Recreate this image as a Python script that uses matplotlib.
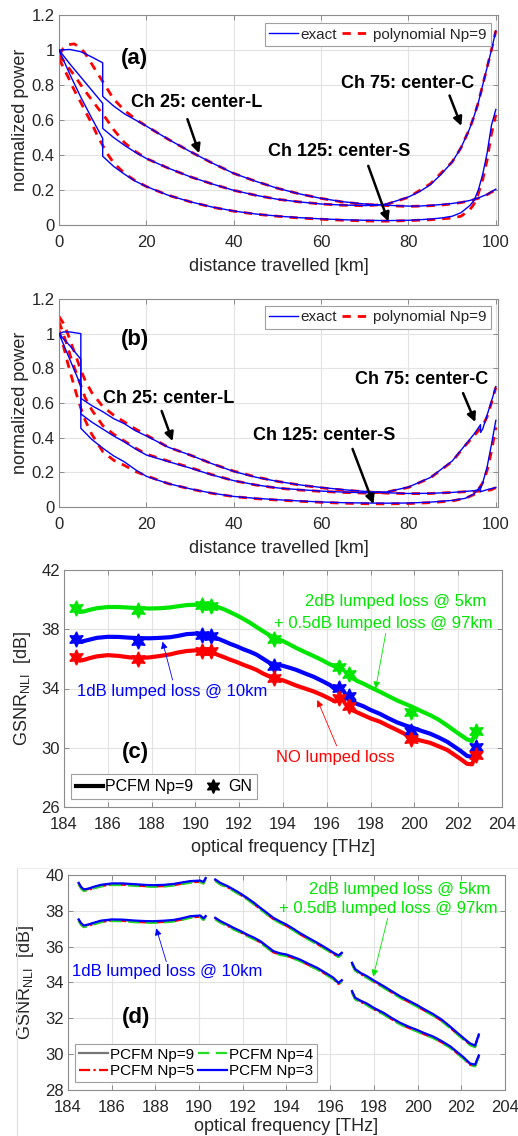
import matplotlib
matplotlib.use("Agg")
import matplotlib.pyplot as plt
from matplotlib.lines import Line2D

plt.rcParams['font.family'] = ['Liberation Sans', 'DejaVu Sans']
plt.rcParams['mathtext.default'] = 'regular'

# ---------------- Panel (a): 1 dB lumped loss @ 10 km ----------------
dist_a_exact = [0, 2.5, 5, 7.5, 10, 10, 12.5, 15, 17.5, 20, 25, 30, 35, 40, 45, 50, 55, 60, 65, 70,
                72.5, 75, 77.5, 80, 82.5, 85, 87.5, 90, 92, 94, 95, 96, 97, 98, 99, 100]
ch25_a_exact = [1.0, 1.003, 0.99, 0.96, 0.927, 0.735, 0.68, 0.635, 0.6, 0.565,
                0.49, 0.42, 0.355, 0.295, 0.25, 0.21, 0.178, 0.152, 0.133, 0.12,
                0.116, 0.113, 0.11, 0.108, 0.108, 0.112, 0.117, 0.123, 0.13, 0.14,
                0.147, 0.155, 0.165, 0.175, 0.19, 0.205]
ch75_a_exact = [1.0, 0.92, 0.845, 0.77, 0.695, 0.552, 0.5, 0.455, 0.415, 0.38,
                0.325, 0.276, 0.235, 0.198, 0.17, 0.147, 0.132, 0.12, 0.114, 0.111,
                0.113, 0.12, 0.14, 0.16, 0.19, 0.23, 0.29, 0.36, 0.44, 0.55,
                0.62, 0.7, 0.8, 0.9, 1.0, 1.11]
ch125_a_exact = [1.0, 0.86, 0.73, 0.61, 0.495, 0.393, 0.335, 0.29, 0.25, 0.22,
                 0.17, 0.133, 0.103, 0.08, 0.063, 0.051, 0.042, 0.035, 0.03, 0.027,
                 0.026, 0.025, 0.026, 0.027, 0.03, 0.034, 0.04, 0.05, 0.07, 0.11,
                 0.14, 0.2, 0.29, 0.41, 0.57, 0.66]

dist_a_poly = [0, 1, 2, 3.5, 5, 6, 7.5, 9, 10, 11, 12.5, 15, 17.5, 20, 25, 30, 35, 40, 45, 50,
               55, 60, 65, 70, 75, 80, 85, 88, 90, 92, 94, 95, 96, 97, 98, 99, 100]
ch25_a_poly = [0.97, 1.01, 1.03, 1.035, 1.01, 0.98, 0.92, 0.86, 0.82, 0.78,
               0.72, 0.655, 0.605, 0.565, 0.49, 0.42, 0.355, 0.295, 0.25, 0.21,
               0.178, 0.152, 0.131, 0.118, 0.111, 0.106, 0.11, 0.115, 0.121, 0.128,
               0.138, 0.145, 0.153, 0.163, 0.173, 0.188, 0.2]
ch75_a_poly = [0.97, 0.94, 0.905, 0.855, 0.8, 0.765, 0.715, 0.665, 0.635, 0.6,
               0.545, 0.47, 0.42, 0.38, 0.325, 0.276, 0.235, 0.198, 0.17, 0.147,
               0.132, 0.12, 0.113, 0.11, 0.118, 0.158, 0.235, 0.31, 0.36, 0.44,
               0.55, 0.62, 0.7, 0.8, 0.9, 1.0, 1.11]
ch125_a_poly = [0.95, 0.9, 0.85, 0.77, 0.7, 0.65, 0.58, 0.5, 0.455, 0.41,
                0.355, 0.295, 0.252, 0.22, 0.17, 0.133, 0.102, 0.079, 0.062, 0.05,
                0.04, 0.033, 0.027, 0.023, 0.022, 0.025, 0.03, 0.036, 0.04, 0.05,
                0.085, 0.12, 0.18, 0.26, 0.37, 0.52, 0.63]

# ---------------- Panel (b): 2 dB @ 5 km + 0.5 dB @ 97 km ----------------
dist_b_exact = [0, 1, 2.5, 5, 5, 7.5, 10, 12.5, 15, 17.5, 20, 25, 30, 35, 40, 45, 50, 55, 60,
                65, 70, 75, 80, 85, 90, 93, 95, 96.5, 96.5, 97, 98, 99, 100]
ch25_b_exact = [1.0, 1.01, 1.01, 1.0, 0.627, 0.585, 0.55, 0.51, 0.48,
                0.44, 0.41, 0.345, 0.3, 0.25, 0.205, 0.172, 0.148, 0.128, 0.113,
                0.1, 0.09, 0.082, 0.078, 0.079, 0.084, 0.09, 0.094, 0.1,
                0.089, 0.092, 0.1, 0.106, 0.113]
ch75_b_exact = [1.0, 0.97, 0.93, 0.852, 0.537, 0.49, 0.45, 0.41, 0.375,
                0.335, 0.3, 0.262, 0.225, 0.185, 0.152, 0.128, 0.11, 0.1, 0.092,
                0.086, 0.082, 0.087, 0.115, 0.17, 0.265, 0.358, 0.42, 0.475,
                0.43, 0.45, 0.53, 0.61, 0.695]
ch125_b_exact = [1.0, 0.94, 0.85, 0.70, 0.454, 0.39, 0.34, 0.295, 0.26,
                 0.215, 0.177, 0.135, 0.105, 0.08, 0.061, 0.05, 0.042, 0.035, 0.029,
                 0.025, 0.023, 0.022, 0.023, 0.028, 0.038, 0.05, 0.075, 0.12,
                 0.107, 0.14, 0.23, 0.36, 0.5]

dist_b_poly = [0, 1, 2, 3, 4, 5, 6, 7.5, 10, 12.5, 15, 17.5, 20, 25, 30, 35, 40, 45, 50, 55,
               60, 65, 70, 75, 80, 85, 90, 93, 95, 96, 97, 98, 99, 100]
ch25_b_poly = [1.1, 1.06, 1.0, 0.93, 0.86, 0.79, 0.73, 0.66, 0.58, 0.53,
               0.49, 0.45, 0.415, 0.345, 0.3, 0.25, 0.207, 0.174, 0.148, 0.127,
               0.111, 0.098, 0.088, 0.08, 0.077, 0.078, 0.084, 0.088, 0.09, 0.091,
               0.092, 0.095, 0.1, 0.112]
ch75_b_poly = [1.07, 1.0, 0.92, 0.84, 0.77, 0.7, 0.63, 0.56, 0.47, 0.42,
               0.38, 0.34, 0.305, 0.265, 0.228, 0.187, 0.152, 0.127, 0.109, 0.098,
               0.09, 0.084, 0.08, 0.086, 0.113, 0.168, 0.262, 0.355, 0.41, 0.44,
               0.47, 0.52, 0.6, 0.69]
ch125_b_poly = [1.02, 0.93, 0.83, 0.74, 0.65, 0.57, 0.5, 0.42, 0.32, 0.27,
                0.24, 0.205, 0.18, 0.135, 0.104, 0.079, 0.06, 0.048, 0.04, 0.033,
                0.027, 0.022, 0.019, 0.018, 0.02, 0.025, 0.035, 0.05, 0.072, 0.1,
                0.14, 0.21, 0.32, 0.46]

# ---------------- Panels (c),(d): GSNR_NLI vs frequency ----------------
freq_L = [184.49, 184.6, 184.72, 184.9, 185.17, 185.5, 186.0, 186.5, 187.0, 187.5,
          187.9, 188.4, 188.83, 189.2, 189.6, 190.05, 190.2, 190.3]
freq_C = [190.74, 190.97, 191.3, 191.58, 191.9, 192.19, 192.5, 192.8, 193.1, 193.4,
          193.7, 194.0, 194.3, 194.6, 195.0, 195.4, 195.8, 196.15, 196.38, 196.53]
freq_S = [197.0, 197.14, 197.4, 197.67, 198.0, 198.44, 198.8, 199.2, 199.6, 199.96,
          200.3, 200.72, 201.1, 201.5, 201.8, 202.1, 202.4, 202.63, 202.8]

gsnr_2dB_L = [39.53, 39.3, 39.17, 39.2, 39.31, 39.42, 39.5, 39.5, 39.46, 39.42,
              39.4, 39.42, 39.47, 39.55, 39.63, 39.66, 39.58, 39.8]
gsnr_2dB_C = [39.72, 39.53, 39.35, 39.16, 38.93, 38.7, 38.43, 38.14, 37.86, 37.58,
              37.38, 37.2, 36.98, 36.74, 36.46, 36.19, 35.9, 35.63, 35.48, 35.63]
gsnr_2dB_S = [35.07, 34.72, 34.5, 34.33, 34.08, 33.77, 33.5, 33.2, 32.95, 32.72,
              32.48, 32.2, 31.9, 31.5, 31.18, 30.87, 30.57, 30.45, 31.07]

gsnr_1dB_L = [37.49, 37.28, 37.15, 37.2, 37.3, 37.42, 37.49, 37.48, 37.43, 37.4,
              37.39, 37.42, 37.46, 37.55, 37.67, 37.71, 37.55, 37.68]
gsnr_1dB_C = [37.58, 37.4, 37.2, 37.02, 36.84, 36.65, 36.48, 36.28, 36.0, 35.72,
              35.6, 35.53, 35.4, 35.26, 35.02, 34.79, 34.5, 34.23, 33.95, 34.1]
gsnr_1dB_S = [33.49, 33.12, 32.95, 32.8, 32.55, 32.28, 32.0, 31.72, 31.5, 31.33,
              31.15, 30.95, 30.7, 30.4, 30.1, 29.8, 29.45, 29.38, 29.9]

gsnr_0dB_L = [36.15, 35.98, 35.88, 35.93, 36.05, 36.17, 36.25, 36.2, 36.1, 36.07,
              36.1, 36.2, 36.3, 36.43, 36.53, 36.58, 36.45, 36.58]
gsnr_0dB_C = [36.5, 36.3, 36.12, 35.95, 35.78, 35.6, 35.43, 35.25, 35.0, 34.8,
              34.65, 34.55, 34.38, 34.2, 34.0, 33.8, 33.55, 33.3, 33.12, 33.3]
gsnr_0dB_S = [32.9, 32.55, 32.38, 32.2, 31.98, 31.75, 31.48, 31.2, 30.9, 30.65,
              30.48, 30.33, 30.1, 29.85, 29.55, 29.25, 28.92, 28.88, 29.5]

gn_freq = [184.55, 187.36, 190.3, 190.7, 193.58, 196.56, 197.0, 199.86, 202.83]
gn_2dB = [39.46, 39.3, 39.64, 39.6, 37.33, 35.48, 34.97, 32.38, 31.15]
gn_1dB = [37.35, 37.24, 37.62, 37.55, 35.53, 34.02, 33.5, 31.15, 30.02]
gn_0dB = [36.11, 35.98, 36.56, 36.54, 34.7, 33.35, 32.85, 30.58, 29.53]

# PCFM order variants in (d): small deviations (dB) from the Np=9 curves
np_labels = ['PCFM Np=9', 'PCFM Np=5', 'PCFM Np=4', 'PCFM Np=3']
np_dev = [0.0, -0.04, -0.06, 0.03]

BLUE = '#0000FF'
RED = '#FF0000'
GREEN = '#00E600'
TXT = '#262626'
EDGE = '#8c8c8c'
GRIDC = '#e3e3e3'

W, H = 518, 1136
fig = plt.figure(figsize=(W / 100, H / 100), dpi=100)


def make_ax(left, top, right, bottom):
    return fig.add_axes([left / W, 1 - bottom / H, (right - left) / W, (bottom - top) / H])


def style(ax):
    ax.grid(True, color=GRIDC, lw=0.8)
    ax.set_axisbelow(True)
    for s in ax.spines.values():
        s.set_color(EDGE)
        s.set_linewidth(0.8)
    ax.tick_params(direction='in', length=3.5, width=0.7, colors=EDGE,
                   labelcolor=TXT, labelsize=12, top=True, right=True)
    ax.tick_params(axis='x', pad=7)
    ax.tick_params(axis='y', pad=3)


def power_panel(ax, dist_e, exact, dist_p, poly, label, texts, arrows, legend_anchor):
    for ye in exact:
        ax.plot(dist_e, ye, color=BLUE, lw=1.0, zorder=3)
    for yp in poly:
        ax.plot(dist_p, yp, color=RED, lw=2.0, ls=(0, (3, 2.5)), zorder=2)
    ax.set_xlim(0, 100.5)
    ax.set_ylim(0, 1.2)
    ax.set_xticks([0, 20, 40, 60, 80, 100])
    ax.set_yticks([0, 0.2, 0.4, 0.6, 0.8, 1.0, 1.2])
    ax.set_yticklabels(['0', '0.2', '0.4', '0.6', '0.8', '1', '1.2'])
    style(ax)
    ax.set_xlabel('distance travelled [km]', fontsize=13, color=TXT)
    ax.set_ylabel('normalized power', fontsize=13, color=TXT)
    ax.text(label[1], label[2], label[0], fontsize=16, fontweight='bold',
            ha='center', va='center', color='k')
    for (s, x, y) in texts:
        ax.text(x, y, s, fontsize=13, fontweight='bold', ha='center', va='center', color='k')
    for (x0, y0, x1, y1) in arrows:
        ax.annotate('', xy=(x1, y1), xytext=(x0, y0),
                    arrowprops=dict(arrowstyle='-|>', color='k', lw=1.8, mutation_scale=13,
                                    shrinkA=0, shrinkB=0))
    h = [Line2D([], [], color=BLUE, lw=1.0), Line2D([], [], color=RED, lw=2.0, ls=(0, (3, 2.5)))]
    leg = ax.legend(h, ['exact', 'polynomial Np=9'], ncol=2, loc='upper right',
                    bbox_to_anchor=legend_anchor, borderaxespad=0, fontsize=11,
                    fancybox=False, framealpha=1, edgecolor='#a0a0a0', handlelength=1.9,
                    handletextpad=0.15, columnspacing=0.3, borderpad=0.3)
    leg.get_frame().set_linewidth(0.8)
    for t in leg.get_texts():
        t.set_color(TXT)


# (a)
ax_a = make_ax(59, 15, 498, 225)
power_panel(ax_a, dist_a_exact, [ch25_a_exact, ch75_a_exact, ch125_a_exact],
            dist_a_poly, [ch25_a_poly, ch75_a_poly, ch125_a_poly],
            ('(a)', 17.3, 0.95),
            [('Ch 25: center-L', 31.6, 0.70), ('Ch 75: center-C', 79.7, 0.81),
             ('Ch 125: center-S', 64.2, 0.418)],
            [(29.4, 0.605, 32.1, 0.41), (89.4, 0.74, 92.1, 0.566), (70.8, 0.338, 75.4, 0.02)],
            (0.984, 0.962))
ax_a.xaxis.set_label_coords(0.5, -0.155)
ax_a.yaxis.set_label_coords(-0.068, 0.5)

# (b)
ax_b = make_ax(59, 299, 498, 507)
power_panel(ax_b, dist_b_exact, [ch25_b_exact, ch75_b_exact, ch125_b_exact],
            dist_b_poly, [ch25_b_poly, ch75_b_poly, ch125_b_poly],
            ('(b)', 17.3, 0.964),
            [('Ch 25: center-L', 25.1, 0.627), ('Ch 75: center-C', 83.0, 0.738),
             ('Ch 125: center-S', 60.7, 0.415)],
            [(23.5, 0.554, 26.0, 0.38), (92.5, 0.657, 95.3, 0.49), (67.2, 0.335, 72.0, 0.017)],
            (0.984, 0.968))
ax_b.xaxis.set_label_coords(0.5, -0.16)
ax_b.yaxis.set_label_coords(-0.068, 0.5)

STAR = (6, 1, 0)

# (c)
ax_c = make_ax(64, 570, 502, 807)
bands = [(freq_L, gsnr_0dB_L, gsnr_1dB_L, gsnr_2dB_L),
         (freq_C, gsnr_0dB_C, gsnr_1dB_C, gsnr_2dB_C),
         (freq_S, gsnr_0dB_S, gsnr_1dB_S, gsnr_2dB_S)]
for f, g0, g1, g2 in bands:
    ax_c.plot(f, g2, color=GREEN, lw=3, solid_capstyle='round', zorder=3)
    ax_c.plot(f, g1, color=BLUE, lw=3, solid_capstyle='round', zorder=3)
    ax_c.plot(f, g0, color=RED, lw=3, solid_capstyle='round', zorder=3)
for g, c in [(gn_2dB, GREEN), (gn_1dB, BLUE), (gn_0dB, RED)]:
    ax_c.plot(gn_freq, g, ls='none', marker=STAR, ms=11, color=c, mec=c, zorder=4)
ax_c.set_xlim(184, 204)
ax_c.set_ylim(26, 42)
ax_c.set_xticks(range(184, 205, 2))
ax_c.set_yticks([26, 30, 34, 38, 42])
style(ax_c)
ax_c.set_xlabel('optical frequency [THz]', fontsize=13, color=TXT)
ax_c.set_ylabel('GSNR$_{NLI}$  [dB]', fontsize=13, color=TXT)
ax_c.xaxis.set_label_coords(0.5, -0.135)
ax_c.yaxis.set_label_coords(-0.071, 0.5)
ax_c.text(199.15, 39.86, '2dB lumped loss @ 5km', color=GREEN, fontsize=12, ha='center', va='center')
ax_c.text(198.6, 38.4, '+ 0.5dB lumped loss @ 97km', color=GREEN, fontsize=12, ha='center', va='center')
ax_c.text(188.92, 33.78, '1dB lumped loss @ 10km', color=BLUE, fontsize=12, ha='center', va='center')
ax_c.text(196.4, 29.33, 'NO lumped loss', color=RED, fontsize=12, ha='center', va='center')
ax_c.text(187.24, 29.66, '(c)', fontsize=16, fontweight='bold', ha='center', va='center')
for (x0, y0, x1, y1, c) in [(198.69, 37.72, 198.23, 34.0, GREEN),
                            (188.96, 34.57, 188.5, 37.16, BLUE),
                            (196.45, 30.13, 195.57, 33.22, RED)]:
    ax_c.annotate('', xy=(x1, y1), xytext=(x0, y0),
                  arrowprops=dict(arrowstyle='-|>', color=c, lw=0.6, mutation_scale=10,
                                  shrinkA=0, shrinkB=0))
hc = [Line2D([], [], color='k', lw=3), Line2D([], [], color='k', ls='none', marker=STAR, ms=10)]
leg = ax_c.legend(hc, ['PCFM Np=9', 'GN'], ncol=2, loc='lower left', bbox_to_anchor=(0.017, 0.034),
                  borderaxespad=0, fontsize=11.5, fancybox=False, framealpha=1, edgecolor='#a0a0a0',
                  handlelength=1.7, handletextpad=0.1, columnspacing=0.4, borderpad=0.3)
leg.get_frame().set_linewidth(0.8)

# (d)
ax_d = make_ax(68, 875, 505, 1090)
np_styles = [dict(color='#777777', lw=1.6, ls='-'),
             dict(color=RED, lw=1.6, ls=(0, (5, 1.5, 1, 1.5))),
             dict(color='#22DD22', lw=1.6, ls=(0, (5, 3))),
             dict(color=BLUE, lw=1.6, ls='-')]
for lab, dv, st in zip(np_labels, np_dev, np_styles):
    for f, g0, g1, g2 in bands:
        ax_d.plot(f, [v + dv for v in g2], **st)
        ax_d.plot(f, [v + dv for v in g1], **st)
ax_d.set_xlim(184, 204)
ax_d.set_ylim(28, 40)
ax_d.set_xticks(range(184, 205, 2))
ax_d.set_yticks(range(28, 41, 2))
style(ax_d)
ax_d.set_xlabel('optical frequency [THz]', fontsize=13, color=TXT)
ax_d.set_ylabel('GSNR$_{NLI}$  [dB]', fontsize=13, color=TXT)
ax_d.xaxis.set_label_coords(0.5, -0.13)
ax_d.yaxis.set_label_coords(-0.073, 0.5)
ax_d.text(199.19, 39.2, '2dB lumped loss @ 5km', color=GREEN, fontsize=12, ha='center', va='center')
ax_d.text(198.66, 38.14, '+ 0.5dB lumped loss @ 97km', color=GREEN, fontsize=12, ha='center', va='center')
ax_d.text(188.52, 34.6, '1dB lumped loss @ 10km', color=BLUE, fontsize=12, ha='center', va='center')
ax_d.text(187.11, 32.06, '(d)', fontsize=16, fontweight='bold', ha='center', va='center')
for (x0, y0, x1, y1, c) in [(198.63, 37.58, 197.97, 34.33, GREEN),
                            (188.5, 35.16, 188.04, 37.02, BLUE)]:
    ax_d.annotate('', xy=(x1, y1), xytext=(x0, y0),
                  arrowprops=dict(arrowstyle='-|>', color=c, lw=0.6, mutation_scale=10,
                                  shrinkA=0, shrinkB=0))
hd = [Line2D([], [], **st) for st in np_styles]
leg = ax_d.legend(hd, np_labels, ncol=2, loc='lower left', bbox_to_anchor=(0.0167, 0.0386),
                  borderaxespad=0, fontsize=11, fancybox=False, framealpha=1, edgecolor='#a0a0a0',
                  handlelength=1.9, handletextpad=0.1, columnspacing=0.3, borderpad=0.25,
                  labelspacing=0.15)
leg.get_frame().set_linewidth(0.8)

# faint frame of the inset image around panel (d)
fig.add_artist(Line2D([17 / W, 17 / W], [0, 1 - 868 / H], color='#dddddd', lw=0.8))
fig.add_artist(Line2D([17 / W, 1], [1 - 868 / H, 1 - 868 / H], color='#eeeeee', lw=0.8))

fig.savefig('out.png', dpi=100)
